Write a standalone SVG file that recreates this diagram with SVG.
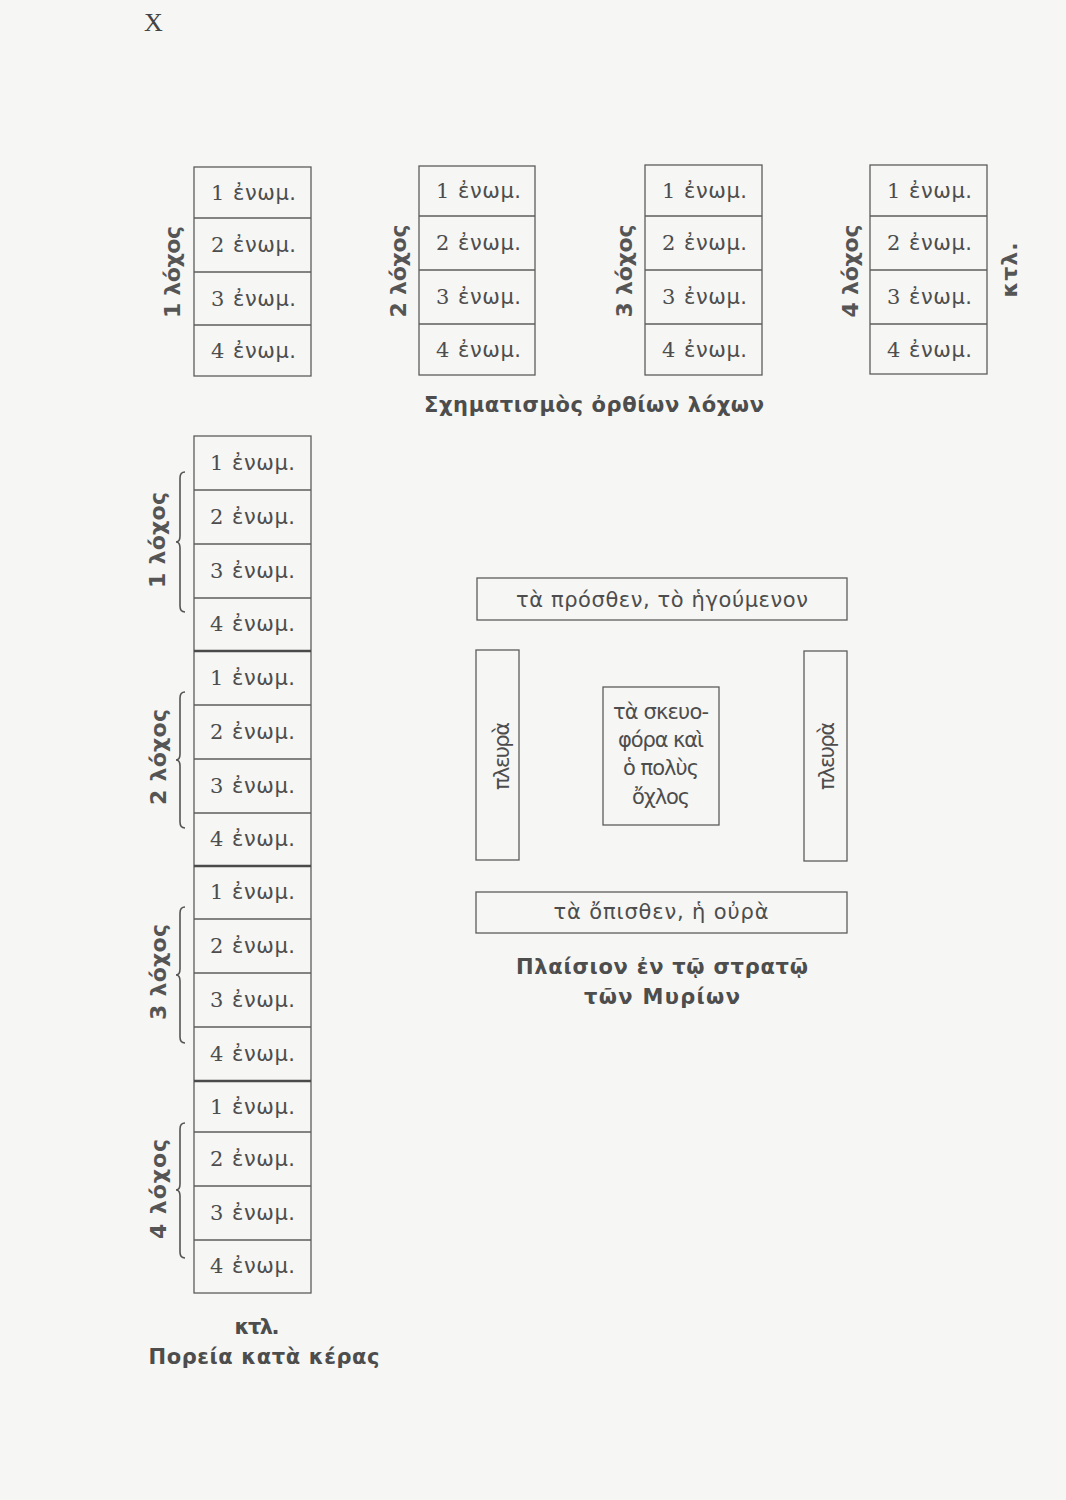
<svg xmlns="http://www.w3.org/2000/svg" width="1066" height="1500" viewBox="0 0 1066 1500">
<style>
.bx{fill:none;stroke:#5c5c5c;stroke-width:1.3}
.thk{stroke:#4a4a4a;stroke-width:2.6}
.n{font-family:"DejaVu Serif","Liberation Serif",serif;font-size:21px;fill:#4d4d4d}
.w{font-family:"DejaVu Sans","Noto Sans",sans-serif;font-size:21px;fill:#4d4d4d}
.lb{font-family:"DejaVu Sans","Noto Sans",sans-serif;font-weight:bold;font-size:22px;fill:#555}
.cap{font-family:"DejaVu Sans","Noto Sans",sans-serif;font-weight:bold;font-size:21px;fill:#4d4d4d}
.br{fill:none;stroke:#555;stroke-width:1.6}
</style>
<rect width="1066" height="1500" fill="#f6f6f4"/>
<text x="144" y="31" font-family="Liberation Serif,serif" font-size="26" fill="#444">X</text>

<!-- Top: Σχηματισμὸς ὀρθίων λόχων -->
<g id="top-lochos1">
<rect class="bx" x="194" y="167" width="117" height="209"/>
<line class="bx" x1="194" y1="218" x2="311" y2="218"/><line class="bx" x1="194" y1="272" x2="311" y2="272"/><line class="bx" x1="194" y1="325" x2="311" y2="325"/>
<text class="n" x="211" y="200">1</text><text class="w" x="233" y="200" textLength="63">ἐνωμ.</text>
<text class="n" x="211" y="252">2</text><text class="w" x="233" y="252" textLength="63">ἐνωμ.</text>
<text class="n" x="211" y="306">3</text><text class="w" x="233" y="306" textLength="63">ἐνωμ.</text>
<text class="n" x="211" y="358">4</text><text class="w" x="233" y="358" textLength="63">ἐνωμ.</text>
<text class="lb" transform="translate(180,272) rotate(-90)" text-anchor="middle" textLength="92">1 λόχος</text>
</g>
<g id="top-lochos2">
<rect class="bx" x="419" y="166" width="116" height="209"/>
<line class="bx" x1="419" y1="216" x2="535" y2="216"/><line class="bx" x1="419" y1="270" x2="535" y2="270"/><line class="bx" x1="419" y1="324" x2="535" y2="324"/>
<text class="n" x="436" y="198">1</text><text class="w" x="458" y="198" textLength="63">ἐνωμ.</text>
<text class="n" x="436" y="250">2</text><text class="w" x="458" y="250" textLength="63">ἐνωμ.</text>
<text class="n" x="436" y="304">3</text><text class="w" x="458" y="304" textLength="63">ἐνωμ.</text>
<text class="n" x="436" y="357">4</text><text class="w" x="458" y="357" textLength="63">ἐνωμ.</text>
<text class="lb" transform="translate(406,271) rotate(-90)" text-anchor="middle" textLength="93">2 λόχος</text>
</g>
<g id="top-lochos3">
<rect class="bx" x="645" y="165" width="117" height="210"/>
<line class="bx" x1="645" y1="216" x2="762" y2="216"/><line class="bx" x1="645" y1="270" x2="762" y2="270"/><line class="bx" x1="645" y1="324" x2="762" y2="324"/>
<text class="n" x="662" y="198">1</text><text class="w" x="684" y="198" textLength="63">ἐνωμ.</text>
<text class="n" x="662" y="250">2</text><text class="w" x="684" y="250" textLength="63">ἐνωμ.</text>
<text class="n" x="662" y="304">3</text><text class="w" x="684" y="304" textLength="63">ἐνωμ.</text>
<text class="n" x="662" y="357">4</text><text class="w" x="684" y="357" textLength="63">ἐνωμ.</text>
<text class="lb" transform="translate(632,271) rotate(-90)" text-anchor="middle" textLength="93">3 λόχος</text>
</g>
<g id="top-lochos4">
<rect class="bx" x="870" y="165" width="117" height="209"/>
<line class="bx" x1="870" y1="216" x2="987" y2="216"/><line class="bx" x1="870" y1="270" x2="987" y2="270"/><line class="bx" x1="870" y1="324" x2="987" y2="324"/>
<text class="n" x="887" y="198">1</text><text class="w" x="909" y="198" textLength="63">ἐνωμ.</text>
<text class="n" x="887" y="250">2</text><text class="w" x="909" y="250" textLength="63">ἐνωμ.</text>
<text class="n" x="887" y="304">3</text><text class="w" x="909" y="304" textLength="63">ἐνωμ.</text>
<text class="n" x="887" y="357">4</text><text class="w" x="909" y="357" textLength="63">ἐνωμ.</text>
<text class="lb" transform="translate(858,271) rotate(-90)" text-anchor="middle" textLength="93">4 λόχος</text>
</g>
<text id="top-ktl" class="lb" transform="translate(1017,270) rotate(-90)" text-anchor="middle" textLength="55">κτλ.</text>
<text id="cap-top" class="cap" x="594" y="412" text-anchor="middle" textLength="340">Σχηματισμὸς ὀρθίων λόχων</text>

<!-- Left: Πορεία κατὰ κέρας -->
<g id="col-left">
<rect class="bx" x="194" y="436" width="117" height="857"/>
<line class="bx" x1="194" y1="490" x2="311" y2="490"/><line class="bx" x1="194" y1="544" x2="311" y2="544"/><line class="bx" x1="194" y1="598" x2="311" y2="598"/>
<line class="bx thk" x1="194" y1="651" x2="311" y2="651"/>
<line class="bx" x1="194" y1="705" x2="311" y2="705"/><line class="bx" x1="194" y1="759" x2="311" y2="759"/><line class="bx" x1="194" y1="813" x2="311" y2="813"/>
<line class="bx thk" x1="194" y1="866" x2="311" y2="866"/>
<line class="bx" x1="194" y1="919" x2="311" y2="919"/><line class="bx" x1="194" y1="973" x2="311" y2="973"/><line class="bx" x1="194" y1="1027" x2="311" y2="1027"/>
<line class="bx thk" x1="194" y1="1081" x2="311" y2="1081"/>
<line class="bx" x1="194" y1="1132" x2="311" y2="1132"/><line class="bx" x1="194" y1="1186" x2="311" y2="1186"/><line class="bx" x1="194" y1="1240" x2="311" y2="1240"/>
</g>
<g id="col-lochos1">
<text class="n" x="210" y="470">1</text><text class="w" x="232" y="470" textLength="63">ἐνωμ.</text>
<text class="n" x="210" y="524">2</text><text class="w" x="232" y="524" textLength="63">ἐνωμ.</text>
<text class="n" x="210" y="578">3</text><text class="w" x="232" y="578" textLength="63">ἐνωμ.</text>
<text class="n" x="210" y="631">4</text><text class="w" x="232" y="631" textLength="63">ἐνωμ.</text>
<path class="br" d="M185 472 Q180 472 180 478 L180 536 Q180 542 176 542 Q180 542 180 548 L180 606 Q180 612 185 612"/>
<text class="lb" transform="translate(165,540) rotate(-90)" text-anchor="middle" textLength="96">1 λόχος</text>
</g>
<g id="col-lochos2">
<text class="n" x="210" y="685">1</text><text class="w" x="232" y="685" textLength="63">ἐνωμ.</text>
<text class="n" x="210" y="739">2</text><text class="w" x="232" y="739" textLength="63">ἐνωμ.</text>
<text class="n" x="210" y="793">3</text><text class="w" x="232" y="793" textLength="63">ἐνωμ.</text>
<text class="n" x="210" y="846">4</text><text class="w" x="232" y="846" textLength="63">ἐνωμ.</text>
<path class="br" d="M185 692 Q180 692 180 698 L180 754 Q180 760 176 760 Q180 760 180 766 L180 822 Q180 828 185 828"/>
<text class="lb" transform="translate(166,757) rotate(-90)" text-anchor="middle" textLength="96">2 λόχος</text>
</g>
<g id="col-lochos3">
<text class="n" x="210" y="899">1</text><text class="w" x="232" y="899" textLength="63">ἐνωμ.</text>
<text class="n" x="210" y="953">2</text><text class="w" x="232" y="953" textLength="63">ἐνωμ.</text>
<text class="n" x="210" y="1007">3</text><text class="w" x="232" y="1007" textLength="63">ἐνωμ.</text>
<text class="n" x="210" y="1061">4</text><text class="w" x="232" y="1061" textLength="63">ἐνωμ.</text>
<path class="br" d="M185 907 Q180 907 180 913 L180 969 Q180 975 176 975 Q180 975 180 981 L180 1037 Q180 1043 185 1043"/>
<text class="lb" transform="translate(166,972) rotate(-90)" text-anchor="middle" textLength="96">3 λόχος</text>
</g>
<g id="col-lochos4">
<text class="n" x="210" y="1114">1</text><text class="w" x="232" y="1114" textLength="63">ἐνωμ.</text>
<text class="n" x="210" y="1166">2</text><text class="w" x="232" y="1166" textLength="63">ἐνωμ.</text>
<text class="n" x="210" y="1220">3</text><text class="w" x="232" y="1220" textLength="63">ἐνωμ.</text>
<text class="n" x="210" y="1273">4</text><text class="w" x="232" y="1273" textLength="63">ἐνωμ.</text>
<path class="br" d="M185 1123 Q180 1123 180 1129 L180 1184 Q180 1190 176 1190 Q180 1190 180 1196 L180 1252 Q180 1258 185 1258"/>
<text class="lb" transform="translate(166,1189) rotate(-90)" text-anchor="middle" textLength="100">4 λόχος</text>
</g>
<text id="col-ktl" class="cap" x="257" y="1334" text-anchor="middle" textLength="45">κτλ.</text>
<text id="cap-left" class="cap" x="264" y="1364" text-anchor="middle" textLength="231">Πορεία κατὰ κέρας</text>

<!-- Right: Πλαίσιον -->
<g id="front">
<rect class="bx" x="477" y="578" width="370" height="42"/>
<text class="w" x="662" y="607" text-anchor="middle" textLength="292">τὰ πρόσθεν, τὸ ἡγούμενον</text>
</g>
<g id="side-left">
<rect class="bx" x="476" y="650" width="43" height="210"/>
<text class="w" transform="translate(509,756) rotate(-90)" text-anchor="middle" textLength="68">πλευρὰ</text>
</g>
<g id="side-right">
<rect class="bx" x="804" y="651" width="43" height="210"/>
<text class="w" transform="translate(834,756) rotate(-90)" text-anchor="middle" textLength="68">πλευρὰ</text>
</g>
<g id="baggage">
<rect class="bx" x="603" y="687" width="116" height="138"/>
<text class="w" x="661" y="719" text-anchor="middle" textLength="96">τὰ σκευο-</text>
<text class="w" x="661" y="747" text-anchor="middle" textLength="86">φόρα καὶ</text>
<text class="w" x="661" y="775" text-anchor="middle" textLength="76">ὁ πολὺς</text>
<text class="w" x="661" y="804" text-anchor="middle" textLength="58">ὄχλος</text>
</g>
<g id="rear">
<rect class="bx" x="476" y="892" width="371" height="41"/>
<text class="w" x="661" y="919" text-anchor="middle" textLength="215">τὰ ὄπισθεν, ἡ οὐρὰ</text>
</g>
<text id="cap-right1" class="cap" x="662" y="974" text-anchor="middle" textLength="292">Πλαίσιον ἐν τῷ στρατῷ</text>
<text id="cap-right2" class="cap" x="662" y="1004" text-anchor="middle" textLength="156">τῶν Μυρίων</text>
<g id="connectors"/>
</svg>
